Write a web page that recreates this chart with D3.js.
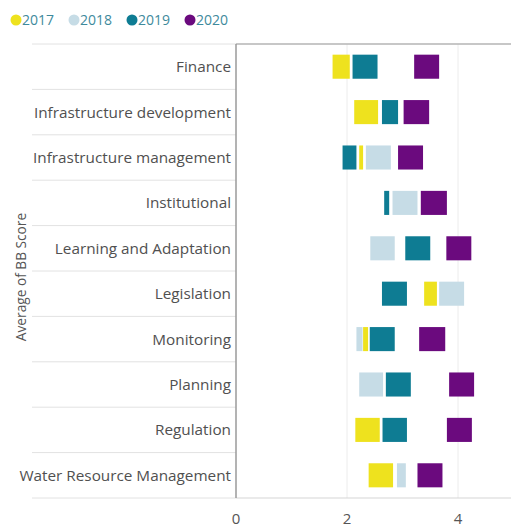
<!DOCTYPE html>
<html>
<head>
<meta charset="utf-8">
<script src="https://d3js.org/d3.v7.min.js"></script>
<style>
  body { margin: 0; background: #fff; }
  text { font-family: "Segoe UI", "Open Sans", sans-serif; }
</style>
</head>
<body>
<svg id="chart" width="511" height="527"></svg>
<script>
// categories, top to bottom
var categories = ['Finance', 'Infrastructure development', 'Infrastructure management', 'Institutional',
  'Learning and Adaptation', 'Legislation', 'Monitoring', 'Planning', 'Regulation', 'Water Resource Management'];
var years = ['2017', '2018', '2019', '2020'];
var colors = ['#EEE21E', '#C6DCE6', '#0E7C93', '#6B0A7E'];

// visible start / end of each year's box (average BB score), null = not shown
var lo2017 = [1.74, 2.13, 2.22, null, null, 3.39, 2.29, null, 2.15, 2.39];
var hi2017 = [2.05, 2.56, 2.29, null, null, 3.62, 2.38, null, 2.59, 2.83];
var lo2018 = [null, null, 2.34, 2.82, 2.42, 3.66, 2.17, 2.22, null, 2.90];
var hi2018 = [null, null, 2.79, 3.27, 2.86, 4.11, 2.28, 2.65, null, 3.06];
var lo2019 = [2.10, 2.63, 1.92, 2.67, 3.05, 2.63, 2.41, 2.70, 2.64, null];
var hi2019 = [2.55, 2.92, 2.17, 2.76, 3.50, 3.08, 2.86, 3.15, 3.08, null];
var lo2020 = [3.21, 3.02, 2.92, 3.33, 3.79, null, 3.30, 3.84, 3.80, 3.27];
var hi2020 = [3.66, 3.48, 3.37, 3.80, 4.24, null, 3.77, 4.29, 4.25, 3.72];
var xTicks = [0, 2, 4];

var los = [lo2017, lo2018, lo2019, lo2020];
var his = [hi2017, hi2018, hi2019, hi2020];

var svg = d3.select('#chart');
var pLeft = 236, pRight = 511, pTop = 44, pBottom = 498;

var x = d3.scaleLinear().domain([0, (pRight - pLeft) / 55.5]).range([pLeft, pRight]);
var y = d3.scaleBand().domain(categories).range([pTop, pBottom]).paddingInner(0.47).paddingOuter(0.235);
var rowH = (pBottom - pTop) / categories.length;

// legend
var legend = svg.append('g').attr('transform', 'translate(16,20)');
var lx = [0, 58, 116, 174];
years.forEach(function(yr, i) {
  var g = legend.append('g').attr('transform', 'translate(' + lx[i] + ',0)');
  g.append('circle').attr('r', 5.5).attr('fill', colors[i]);
  g.append('text').attr('x', 6).attr('y', 5).attr('font-size', 14).attr('fill', '#3E8A9C').text(yr);
});

// gridlines
svg.append('g').selectAll('line').data(xTicks.filter(function(d) { return d > 0; })).enter()
  .append('line')
  .attr('x1', function(d) { return x(d); }).attr('x2', function(d) { return x(d); })
  .attr('y1', pTop).attr('y2', pBottom)
  .style('stroke', '#ececec').style('stroke-width', 1);

// row separators in the label area
svg.append('g').selectAll('line').data(d3.range(categories.length + 1)).enter()
  .append('line')
  .attr('x1', 32).attr('x2', pLeft)
  .attr('y1', function(i) { return pTop + i * rowH; }).attr('y2', function(i) { return pTop + i * rowH; })
  .style('stroke', '#e2e2e2').style('stroke-width', 1);

// top frame
svg.append('line').attr('x1', pLeft).attr('x2', pRight).attr('y1', pTop).attr('y2', pTop)
  .style('stroke', '#b5b5b5').style('stroke-width', 1.5);
// bottom line
svg.append('line').attr('x1', pLeft).attr('x2', pRight).attr('y1', pBottom).attr('y2', pBottom)
  .style('stroke', '#d5d5d5').style('stroke-width', 1);

// boxes
years.forEach(function(yr, j) {
  svg.append('g').selectAll('rect')
    .data(categories.map(function(c, i) { return { c: c, lo: los[j][i], hi: his[j][i] }; })
      .filter(function(d) { return d.lo != null; }))
    .enter().append('rect')
    .attr('x', function(d) { return x(d.lo); })
    .attr('width', function(d) { return x(d.hi) - x(d.lo); })
    .attr('y', function(d) { return y(d.c); })
    .attr('height', y.bandwidth())
    .attr('fill', colors[j]);
});

// category labels
svg.append('g').selectAll('text').data(categories).enter()
  .append('text')
  .attr('x', 231)
  .attr('y', function(d) { return y(d) + y.bandwidth() / 2 + 5.5; })
  .attr('text-anchor', 'end')
  .attr('font-size', 15.3)
  .attr('fill', '#505050')
  .text(function(d) { return d; });

// left axis line
svg.append('line').attr('x1', pLeft).attr('x2', pLeft).attr('y1', pTop).attr('y2', pBottom)
  .style('stroke', '#9a9a9a').style('stroke-width', 1.5);

// x tick labels
svg.append('g').selectAll('text').data(xTicks).enter()
  .append('text')
  .attr('x', function(d) { return x(d); })
  .attr('y', 524)
  .attr('text-anchor', 'middle')
  .attr('font-size', 15)
  .attr('fill', '#555')
  .text(function(d) { return d; });

// y axis title
svg.append('text')
  .attr('transform', 'translate(26,277) rotate(-90)')
  .attr('text-anchor', 'middle')
  .attr('font-size', 13.7)
  .attr('fill', '#555')
  .text('Average of BB Score');
</script>
</body>
</html>
